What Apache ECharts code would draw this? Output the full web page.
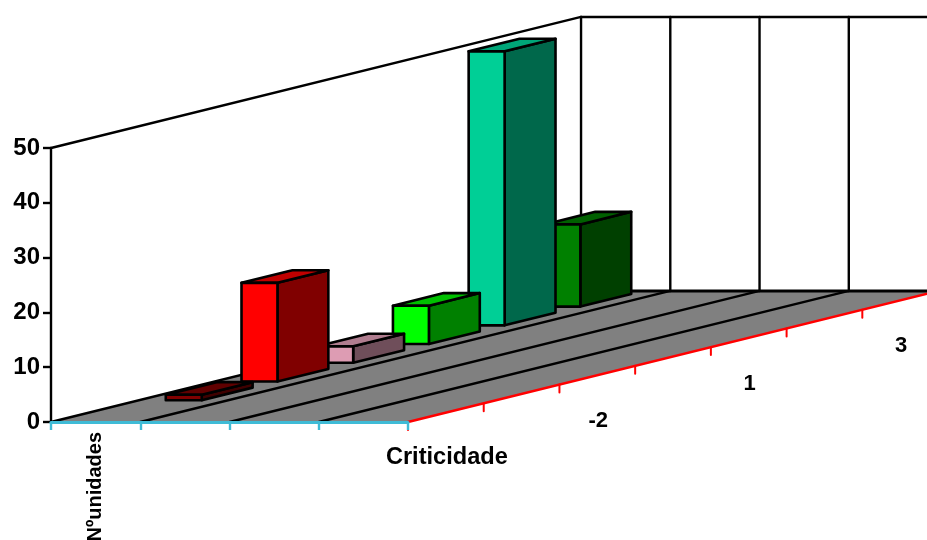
<!DOCTYPE html>
<html><head><meta charset="utf-8">
<style>html,body{margin:0;padding:0;background:#fff;overflow:hidden}#c{width:927px;height:540px}</style>
<script src="https://cdn.jsdelivr.net/npm/echarts@6/dist/echarts.min.js"></script>
</head><body><div id="c"></div>
<script>
const seriesNames = ['Nºunidades', '', '', ''];
const depthLabels = ['', '', '-2', '', '1', '', '3'];
const depthTitle = 'Criticidade';
const values = [0, 1, 18, 3, 7, 50, 15];
const frontColors = ['#800000', '#800000', '#FF0000', '#DD9CB3', '#00FF00', '#00CF96', '#008000'];
const topColors = ['#600000', '#600000', '#C00000', '#B07D8F', '#00C000', '#00A678', '#006000'];
const sideColors = ['#400000', '#400000', '#800000', '#6F4E5A', '#008000', '#00684B', '#004000'];

const FONT = '"Liberation Sans", Arial, sans-serif';
const STEP_X = 75.72, STEP_Y = -18.72;          // oblique projection of one depth category
const BAR_W = 0.403, BAR_D = 0.672;
const N = depthLabels.length, R = seriesNames.length, VMAX = 50;

function pt(api, r, d, v) {
  const p = api.coord([0, v]);
  const size = api.size([1, 0])[0];
  return [p[0] - size / 2 + r * size + d * STEP_X, p[1] + d * STEP_Y];
}
const ln = (a, b, color, w, z2) => ({type: 'line', z2: z2 || 1, shape: {x1: a[0], y1: a[1], x2: b[0], y2: b[1]},
  style: {stroke: color, lineWidth: w, lineCap: 'round'}});
const poly = (pts, fill, z2) => ({type: 'polygon', z2, shape: {points: pts},
  style: {fill, stroke: '#000', lineWidth: 2.6, lineJoin: 'round'}});

function renderFrame(params, api) {
  const c = [];
  c.push({type: 'polygon', z2: 1, shape: {points: [pt(api,0,0,0), pt(api,R,0,0), pt(api,R,N,0), pt(api,0,N,0)]},
    style: {fill: '#808080'}});
  for (let r = 0; r <= R; r++) {
    if (r < R) c.push(ln(pt(api,r,0,0), pt(api,r,N,0), '#000', 2.4, 2));
    c.push(ln(pt(api,r,N,0), pt(api,r,N,VMAX), '#000', 2.4, 2));
  }
  c.push(ln(pt(api,0,N,0), pt(api,R,N,0), '#000', 3, 2));
  c.push(ln(pt(api,0,0,VMAX), pt(api,0,N,VMAX), '#000', 2.4, 2));
  c.push(ln(pt(api,0,N,VMAX), pt(api,R,N,VMAX), '#000', 2.4, 2));
  c.push(ln(pt(api,R,0,0), pt(api,R,N,0), '#FF0000', 2.4, 3));
  for (let d = 0; d <= N; d++) {
    const a = pt(api,R,d,0);
    c.push(ln(a, [a[0], a[1] + 8], '#FF0000', 2, 3));
  }
  depthLabels.forEach((t, d) => {
    if (!t) return;
    const a = pt(api,R,d + 0.5,0);
    c.push({type: 'text', z2: 4, x: a[0] + 1, y: a[1] + 46,
      style: {text: t, fontSize: 22, fontWeight: 'bold', fontFamily: FONT, fill: '#000', align: 'center', verticalAlign: 'middle'}});
  });
  const t = pt(api,R,0.5,0);
  c.push({type: 'text', z2: 4, x: t[0] + 1, y: t[1] + 45,
    style: {text: depthTitle, fontSize: 23.6, fontWeight: 'bold', fontFamily: FONT, fill: '#000', align: 'center', verticalAlign: 'middle'}});
  return {type: 'group', children: c};
}

function renderBar(params, api) {
  const v = api.value(1), i = api.value(2);
  if (!v) return null;
  const r0 = 0.5 - BAR_W / 2, r1 = 0.5 + BAR_W / 2;
  const d0 = i + (1 - BAR_D) / 2, d1 = d0 + BAR_D;
  const z = 100 - i * 2;
  return {type: 'group', children: [
    poly([pt(api,r1,d0,0), pt(api,r1,d1,0), pt(api,r1,d1,v), pt(api,r1,d0,v)], sideColors[i], z),
    poly([pt(api,r0,d0,v), pt(api,r1,d0,v), pt(api,r1,d1,v), pt(api,r0,d1,v)], topColors[i], z),
    poly([pt(api,r0,d0,0), pt(api,r1,d0,0), pt(api,r1,d0,v), pt(api,r0,d0,v)], frontColors[i], z + 1)
  ]};
}

const chart = echarts.init(document.getElementById('c'), null, {renderer: 'canvas'});
chart.setOption({
  animation: false,
  backgroundColor: '#fff',
  grid: {left: 51, top: 148, width: 357, height: 274, containLabel: false, outerBoundsMode: 'none'},
  xAxis: {
    type: 'category', data: seriesNames, boundaryGap: true, z: 10,
    axisLine: {lineStyle: {color: '#3FBBD6', width: 3}},
    axisTick: {show: true, length: 8, alignWithLabel: false, lineStyle: {color: '#3FBBD6', width: 2.4}},
    axisLabel: {interval: 0, rotate: 90, margin: 10, fontSize: 20, fontWeight: 'bold', fontFamily: FONT, color: '#000'}
  },
  yAxis: {
    type: 'value', min: 0, max: VMAX, interval: 10, splitLine: {show: false},
    axisLine: {show: true, lineStyle: {color: '#000', width: 2.4}},
    axisTick: {show: true, length: 8, lineStyle: {color: '#000', width: 2.4}},
    axisLabel: {margin: 11, padding: [2, 0, 0, 0], fontSize: 24, fontWeight: 'bold', fontFamily: FONT, color: '#000'}
  },
  series: [
    {type: 'custom', z: 1, silent: true, renderItem: renderFrame, data: [[0, 0]], clip: false},
    {type: 'custom', z: 2, silent: true, renderItem: renderBar, clip: false,
     data: values.map((v, i) => [0, v, i]), encode: {x: 0, y: 1}}
  ]
});
</script></body></html>
